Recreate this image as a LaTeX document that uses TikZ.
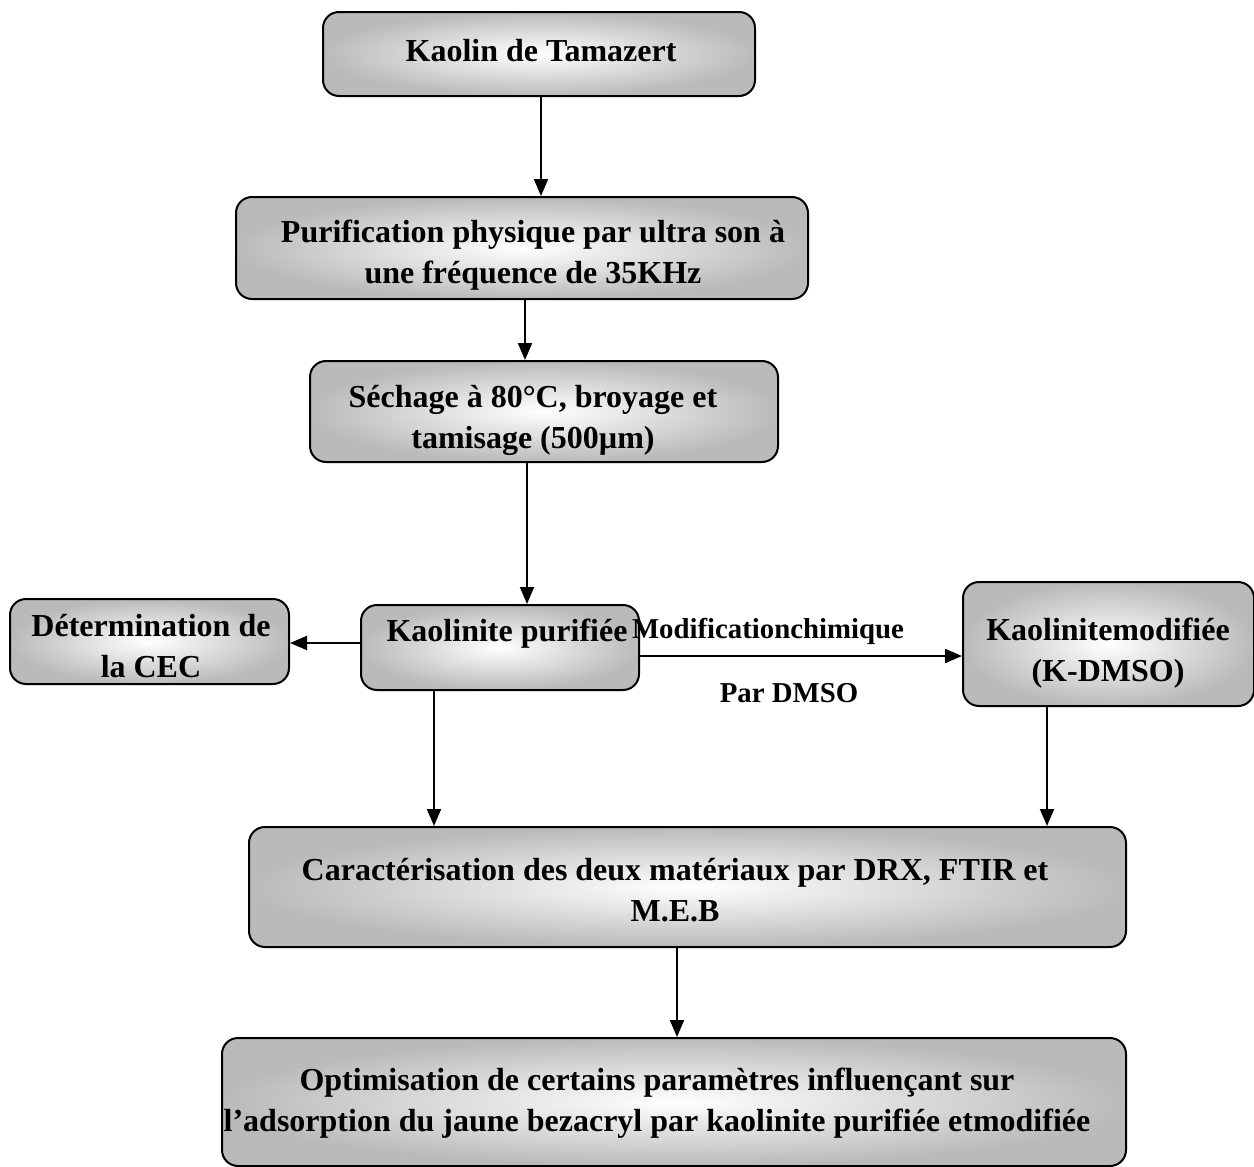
\documentclass[tikz,border=0pt]{standalone}
\usepackage{fontspec}
\setmainfont{Liberation Serif}
\usetikzlibrary{arrows.meta,calc}
\begin{document}
\begin{tikzpicture}[x=0.5pt,y=-0.5pt,
  box/.style={draw=black,line width=1pt,rounded corners=8pt,inner color=white,outer color=black!27,inner sep=0pt},
  txt/.style={align=center,inner sep=0pt,font=\fontsize{16}{20.5}\selectfont\bfseries},
  lbl/.style={inner sep=0pt,font=\fontsize{14.4}{17}\selectfont\bfseries},
  arr/.style={line width=1pt,-{Triangle[length=8.5pt,width=7pt]}}]
\useasboundingbox (0,0) rectangle (1254,1167);
\node[box,minimum width=216pt,minimum height=42pt] (b1) at (539,54) {};
\node[box,minimum width=286pt,minimum height=51pt] (b2) at (522,248) {};
\node[box,minimum width=234pt,minimum height=50.5pt] (b3) at (544,411.5) {};
\node[box,minimum width=139.5pt,minimum height=42.5pt] (b4) at (149.5,641.5) {};
\node[box,minimum width=139pt,minimum height=42.5pt] (b5) at (500,647.5) {};
\node[box,minimum width=145.5pt,minimum height=62pt] (b6) at (1108.5,644) {};
\node[box,minimum width=438.5pt,minimum height=60pt] (b7) at (687.5,887) {};
\node[box,minimum width=452pt,minimum height=64pt] (b8) at (674,1102) {};
\node[txt] (t1) at (541,51) {Kaolin de Tamazert};
\node[txt] (t2) at (533,255) {Purification physique par ultra son à\\une fréquence de 35KHz};
\node[txt] (t3) at (533,420) {Séchage à 80°C, broyage et\\tamisage (500µm)};
\node[txt] (t4) at (151,646) {Détermination de\\la CEC};
\node[txt] (t5) at (507,634) {Kaolinite purifiée};
\node[txt] (t6) at (1108,653) {Kaolinitemodifiée\\(K-DMSO)};
\node[txt] (t7) at (675,890) {Caractérisation des deux matériaux par DRX, FTIR et\\M.E.B};
\node[txt] (t8) at (657,1103) {Optimisation de certains paramètres influençant sur\\l’adsorption du jaune bezacryl par kaolinite purifiée etmodifiée};
\node[lbl] (m1) at (768,631) {Modificationchimique};
\node[lbl] (m2) at (789,693) {Par DMSO};
\coordinate (xa) at (541,0);
\coordinate (xb) at (525,0);
\coordinate (xc) at (527,0);
\coordinate (xd) at (434,0);
\coordinate (xe) at (1047,0);
\coordinate (xf) at (677,0);
\coordinate (ya) at (0,643);
\coordinate (yb) at (0,656);
\draw[arr] (b1.south -| xa) -- (b2.north -| xa);
\draw[arr] (b2.south -| xb) -- (b3.north -| xb);
\draw[arr] (b3.south -| xc) -- (b5.north -| xc);
\draw[arr] (b5.west |- ya) -- (b4.east |- ya);
\draw[arr] (b5.east |- yb) -- (b6.west |- yb);
\draw[arr] (b5.south -| xd) -- (b7.north -| xd);
\draw[arr] (b6.south -| xe) -- (b7.north -| xe);
\draw[arr] (b7.south -| xf) -- (b8.north -| xf);
\end{tikzpicture}
\end{document}
